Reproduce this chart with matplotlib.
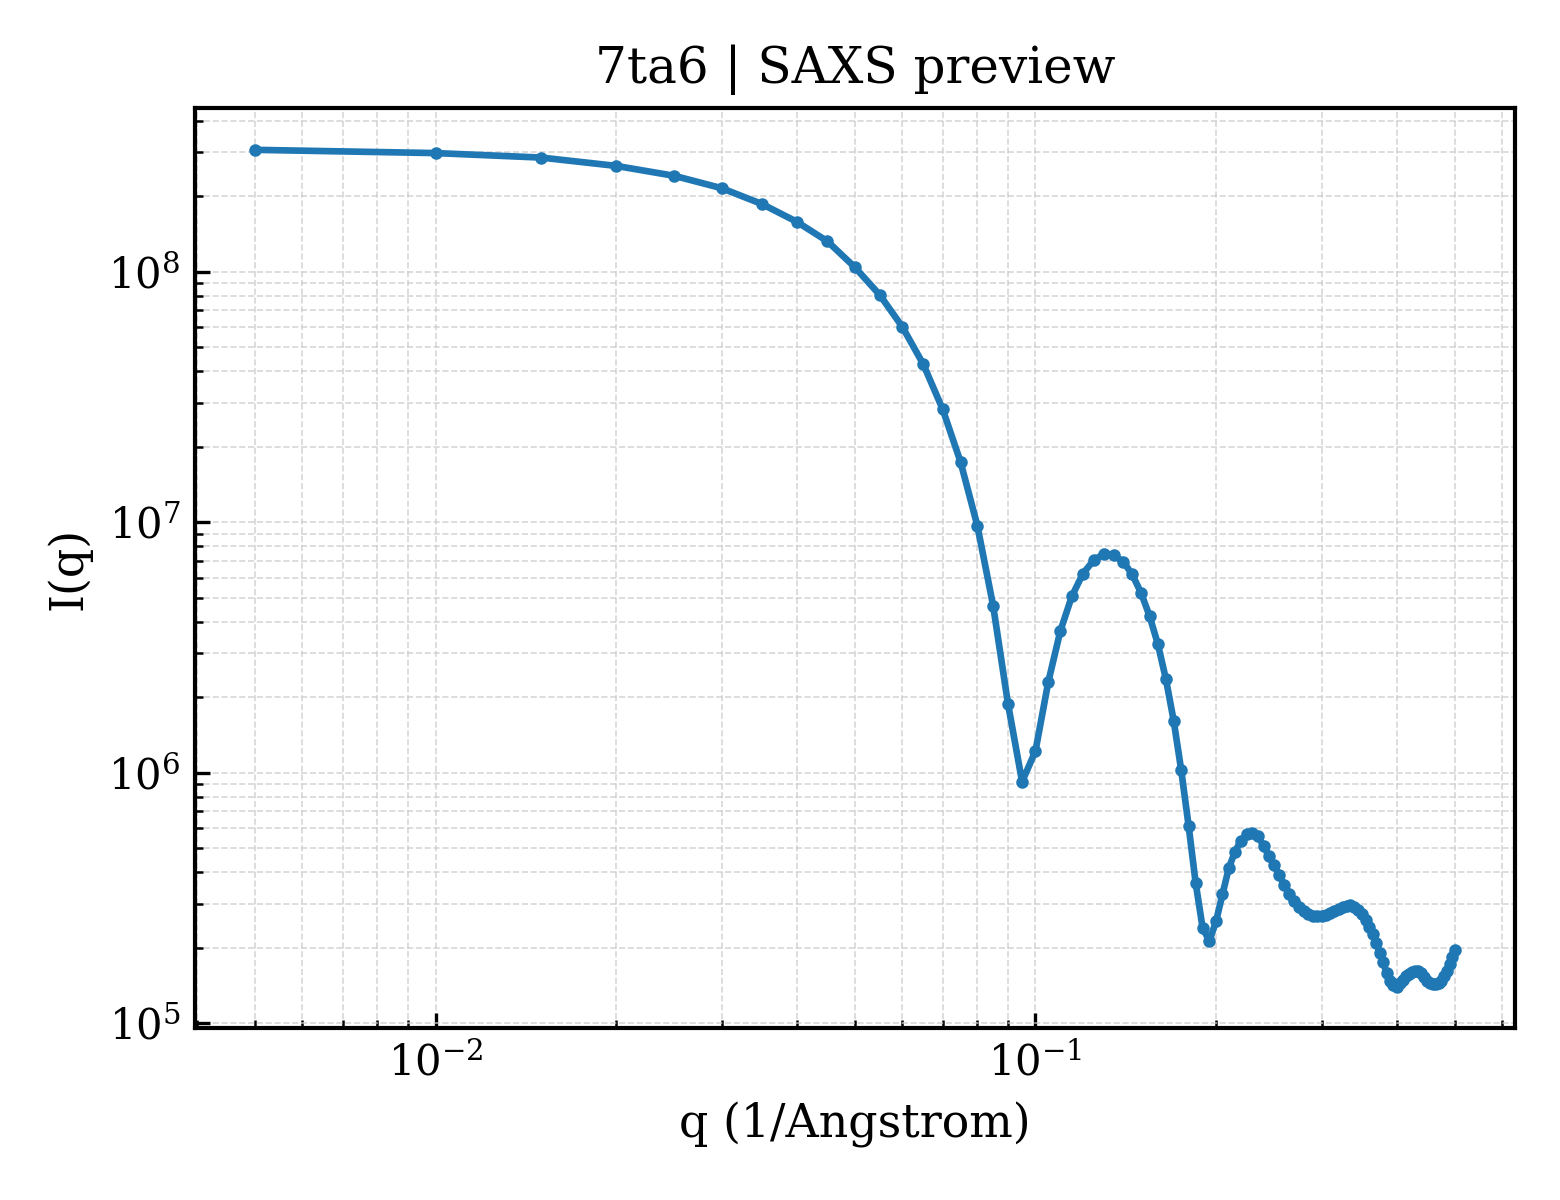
import numpy as np
import matplotlib
matplotlib.use("Agg")
import matplotlib.pyplot as plt

plt.rcParams['font.family'] = ['DejaVu Serif']
plt.rcParams['mathtext.fontset'] = 'dejavuserif'

q = [0.005 * k for k in range(1, 101)]
intensity = [
    3.06e8, 2.97e8, 2.85e8, 2.64e8, 2.41e8, 2.15e8, 1.86e8, 1.58e8, 1.32e8, 1.04e8,
    8.07e7, 6.01e7, 4.27e7, 2.83e7, 1.74e7, 9.69e6, 4.64e6, 1.88e6, 9.2e5, 1.22e6,
    2.29e6, 3.67e6, 5.06e6, 6.23e6, 7.03e6, 7.47e6, 7.36e6, 6.96e6, 6.18e6, 5.21e6,
    4.21e6, 3.25e6, 2.36e6, 1.61e6, 1.02e6, 6.14e5, 3.61e5, 2.39e5, 2.13e5, 2.55e5,
    3.27e5, 4.15e5, 4.83e5, 5.35e5, 5.69e5, 5.74e5, 5.56e5, 5.1e5, 4.63e5, 4.27e5,
    3.90e5, 3.56e5, 3.29e5, 3.08e5, 2.91e5, 2.80e5, 2.73e5, 2.69e5, 2.67e5, 2.67e5,
    2.70e5, 2.75e5, 2.80e5, 2.85e5, 2.90e5, 2.93e5, 2.96e5, 2.92e5, 2.83e5, 2.72e5,
    2.58e5, 2.42e5, 2.26e5, 2.09e5, 1.90e5, 1.75e5, 1.58e5, 1.47e5, 1.42e5, 1.40e5,
    1.44e5, 1.49e5, 1.54e5, 1.57e5, 1.60e5, 1.62e5, 1.61e5, 1.58e5, 1.53e5, 1.48e5,
    1.45e5, 1.43e5, 1.43e5, 1.44e5, 1.48e5, 1.54e5, 1.62e5, 1.72e5, 1.83e5, 1.96e5,
]

fig = plt.figure(figsize=(5.2, 4), dpi=300)
ax = fig.add_axes([0.125, 0.143, 0.846, 0.767])
ax.plot(q, intensity, '-o', color='#1f77b4', linewidth=1.6, markersize=2.0)
ax.set_xscale('log')
ax.set_yscale('log')
ax.set_xlabel('q (1/Angstrom)', fontsize=11)
ax.set_ylabel('I(q)', fontsize=11)
ax.set_title('7ta6 | SAXS preview', fontsize=12)
ax.tick_params(which='both', direction='in', labelsize=10)
for s in ax.spines.values():
    s.set_linewidth(1.0)
ax.grid(True, which='both', linestyle='--', linewidth=0.4, color='#cccccc', alpha=0.8)
fig.savefig('out.png', dpi=300)
